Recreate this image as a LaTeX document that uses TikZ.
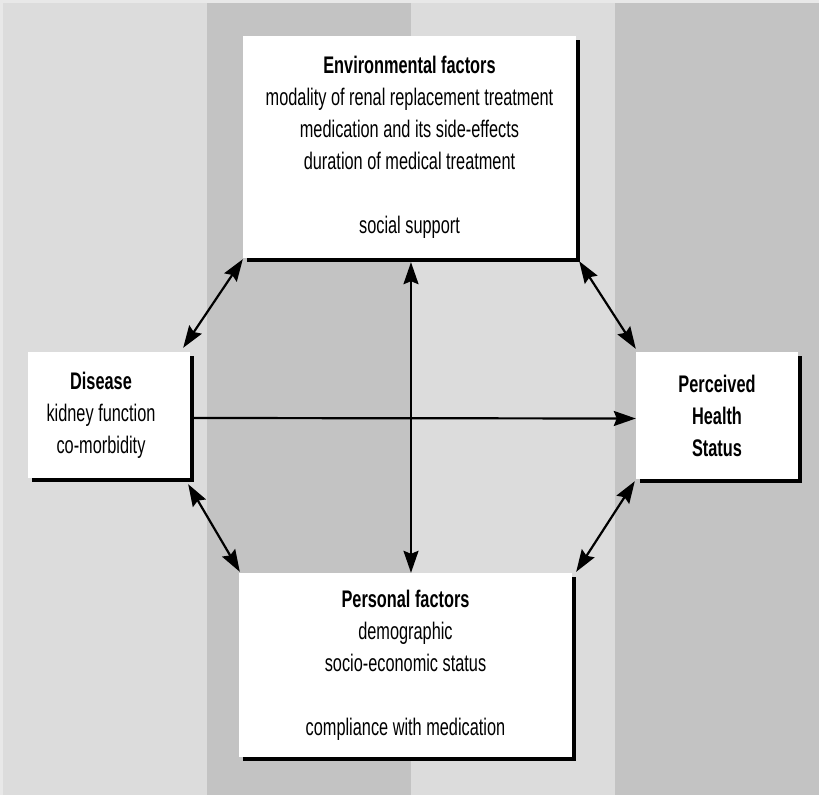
\documentclass[tikz,border=0pt]{standalone}
\usepackage{fontspec}
\setmainfont[FakeStretch=0.68]{Liberation Sans}
\usetikzlibrary{arrows.meta,shadows,calc}
\definecolor{bglight}{HTML}{DCDCDC}
\definecolor{bgdark}{HTML}{C3C3C3}
\definecolor{bgedge}{HTML}{E8E8E8}
\tikzset{
  box/.style={draw=none, fill=white, inner sep=0pt, align=center,
    font=\fontsize{24}{32}\selectfont,
    drop shadow={shadow xshift=4pt, shadow yshift=-4pt, fill=black, opacity=1}},
  tip/.tip={Stealth[length=22pt,width=15pt,inset=3pt]},
  link/.style={line width=2.2pt, -tip},
  dlink/.style={line width=2.2pt, tip-tip}
}
\begin{document}
\begin{tikzpicture}[x=1pt,y=-1pt]
\useasboundingbox (0,0) rectangle (819,795);
\fill[bgedge] (0,0) rectangle (819,795);
\fill[bglight] (3,3) rectangle (207,795);
\fill[bgdark] (207,3) rectangle (411,795);
\fill[bglight] (411,3) rectangle (615,795);
\fill[bgdark] (615,3) rectangle (819,795);

\node[box, minimum width=333pt, minimum height=222pt] (env) at (409.5,147)
  {\textbf{Environmental factors}\\
   modality of renal replacement treatment\\
   medication and its side-effects\\
   duration of medical treatment\\[32pt]
   social support};
\node[box, minimum width=162pt, minimum height=126pt] (dis) at (109,415)
  {\hspace*{-16pt}\begin{tabular}{@{}c@{}}\textbf{Disease}\\ kidney function\\ co-morbidity\end{tabular}};
\node[box, minimum width=162pt, minimum height=127pt] (per) at (717,415.5)
  {\textbf{Perceived}\\ \textbf{Health}\\ \textbf{Status}};
\node[box, minimum width=333pt, minimum height=184pt] (pers) at (405.5,665)
  {\textbf{Personal factors}\\
   demographic\\
   socio-economic status\\[32pt]
   compliance with medication};

\draw[dlink] ([xshift=1.5pt,yshift=-4pt]env.south) -- ([xshift=5.5pt]pers.north);
\draw[link] ([xshift=4pt,yshift=-3pt]dis.east) -- ([yshift=-3pt]per.west);
\draw[dlink] ([yshift=-1pt]env.south west) -- ([xshift=-7pt,yshift=4pt]dis.north east);
\draw[dlink] ([xshift=3pt,yshift=-3pt]env.south east) -- ([yshift=3pt]per.north west);
\draw[dlink] ([xshift=-2pt,yshift=-6pt]dis.south east) -- ([xshift=1pt,yshift=1pt]pers.north west);
\draw[dlink] ([xshift=4pt,yshift=1pt]pers.north east) -- ([xshift=-1pt,yshift=-2pt]per.south west);
\end{tikzpicture}
\end{document}
